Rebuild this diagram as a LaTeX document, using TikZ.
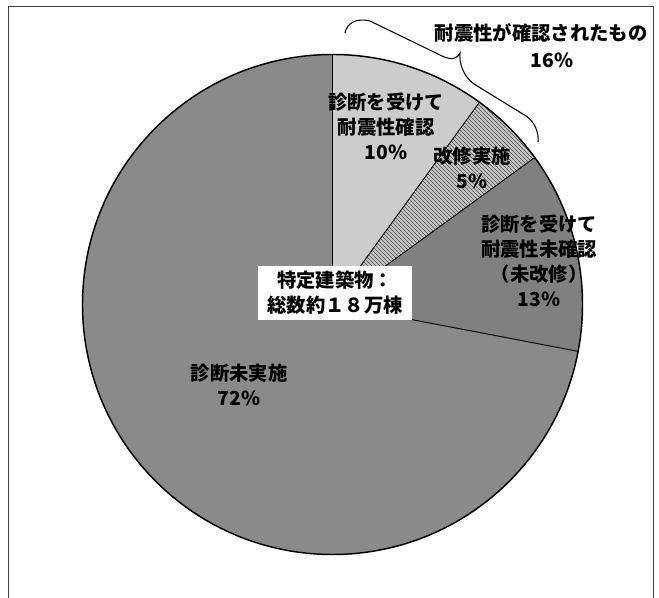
\documentclass[tikz,border=0pt]{standalone}
\usepackage{fontspec}
\newfontfamily\jp{Noto Sans CJK JP}
\usetikzlibrary{patterns,calc}
\begin{document}
\begin{tikzpicture}[x=0.75pt,y=0.75pt,
  lbl/.style={font=\jp\bfseries\fontsize{14.5}{18.75}\selectfont, align=center, inner sep=0pt, text=black},
  edge/.style={draw=black, line width=0.7pt}]
\useasboundingbox (0,0) rectangle (659,598);
\fill[white] (0,0) rectangle (659,598);
\draw[line width=0.7pt, black!75] (8,0) -- (8,592) -- (653,592) -- (653,0);
\coordinate (c) at (332.5,293.5);
% slices
\fill[black!46] (c) -- ++(90:250) arc[start angle=90,end angle=349.2,radius=250] -- cycle;
\fill[black!20] (c) -- ++(54:250) arc[start angle=54,end angle=90,radius=250] -- cycle;
\fill[black!22] (c) -- ++(36:250) arc[start angle=36,end angle=54,radius=250] -- cycle;
\fill[pattern=north west lines, pattern color=black!70] (c) -- ++(36:250) arc[start angle=36,end angle=54,radius=250] -- cycle;
\fill[black!50] (c) -- ++(-10.8:250) arc[start angle=-10.8,end angle=36,radius=250] -- cycle;
% slice edges
\draw[edge] (c) -- ++(90:250);
\draw[edge] (c) -- ++(54:250);
\draw[edge] (c) -- ++(36:250);
\draw[edge] (c) -- ++(-10.8:250);
\draw[line width=1.1pt] (c) circle[radius=250];
% labels
\node[lbl] (a) at (386,472) {診断を受けて\\耐震性確認\\10\%};
\node[lbl] (b) at (472,430.5) {改修実施\\5\%};
\node[lbl] (d) at (539,337) {診断を受けて\\耐震性未確認\\（未改修）\\13\%};
\node[lbl] (e) at (239,213) {診断未実施\\72\%};
\node[lbl, fill=white, minimum width=115.5pt, minimum height=40.5pt] (tot) at (335,305) {特定建築物：\\総数約１８万棟};
\node[lbl] (t1) at (541,565) {耐震性が確認されたもの};
\node[lbl] (t2) at (552,538) {16\%};
% brace
\coordinate (bs) at (345,565);
\coordinate (bt) at (460,545);
\coordinate (be) at (538,456);
\draw[line width=0.8pt] (bs) .. controls (347,576) and (358,580) .. (370,577) -- (442,542)
  .. controls (452,537) and (458,540) .. (bt)
  .. controls (459,535) and (463,522) .. (474,514) -- (526,482)
  .. controls (535,476) and (539,465) .. (be);
\end{tikzpicture}
\end{document}
